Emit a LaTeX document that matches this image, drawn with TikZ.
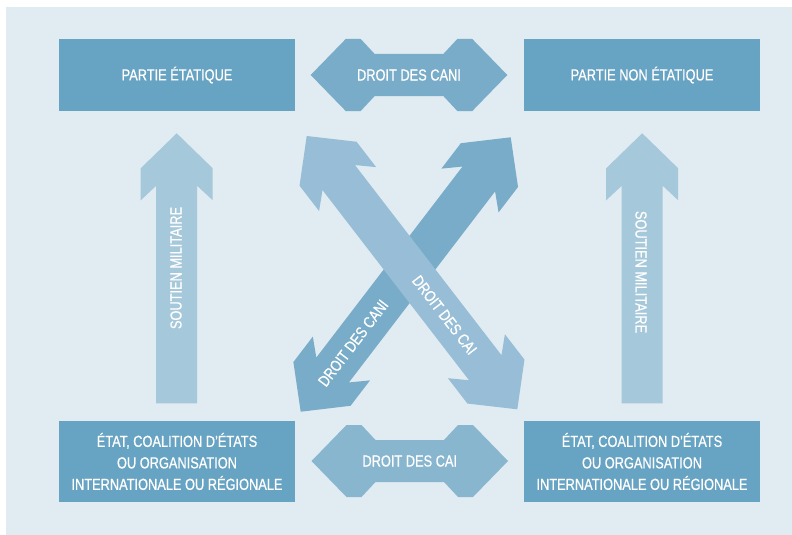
\documentclass[tikz,border=0pt]{standalone}
\usepackage{fontspec}
\setmainfont{Liberation Sans}[FakeStretch=0.8, FakeBold=0.6]
\usetikzlibrary{calc}

\definecolor{panelc}{HTML}{E1EBF2}
\definecolor{boxc}{HTML}{67A3C2}
\definecolor{canic}{HTML}{78ACC8}
\definecolor{caic}{HTML}{89B6CF}
\definecolor{xcaic}{HTML}{97BED6}
\definecolor{supportc}{HTML}{A6C8DB}

% point at distance #3 from (#1) towards (#2), shifted #4 sideways
\newcommand{\ap}[4]{($(#1)!#3!(#2)!#4!90:(#2)$)}

% double block arrow with swept-back barbs: style, end, end
\newcommand{\sweptdouble}[3]{%
  \fill[#1] (#2) -- \ap{#2}{#3}{35pt}{36pt} -- \ap{#2}{#3}{67pt}{36pt} -- \ap{#2}{#3}{52.5pt}{20.5pt}
    -- \ap{#3}{#2}{52.5pt}{-20.5pt} -- \ap{#3}{#2}{67pt}{-36pt} -- \ap{#3}{#2}{35pt}{-36pt} -- (#3)
    -- \ap{#3}{#2}{35pt}{36pt} -- \ap{#3}{#2}{67pt}{36pt} -- \ap{#3}{#2}{52.5pt}{20.5pt}
    -- \ap{#2}{#3}{52.5pt}{-20.5pt} -- \ap{#2}{#3}{67pt}{-36pt} -- \ap{#2}{#3}{35pt}{-36pt} -- cycle;}

% single block arrow with swept-back barbs: style, base, tip
\newcommand{\sweptsingle}[3]{%
  \fill[#1] (#3) -- \ap{#3}{#2}{35pt}{36pt} -- \ap{#3}{#2}{67pt}{36pt} -- \ap{#3}{#2}{52.5pt}{20.5pt}
    -- \ap{#2}{#3}{0pt}{-20.5pt} -- \ap{#2}{#3}{0pt}{20.5pt}
    -- \ap{#3}{#2}{52.5pt}{-20.5pt} -- \ap{#3}{#2}{67pt}{-36pt} -- \ap{#3}{#2}{35pt}{-36pt} -- cycle;}

% double block arrow with notched head backs: style, end, end
\newcommand{\notchdouble}[3]{%
  \fill[#1] (#2) -- \ap{#2}{#3}{35pt}{36pt} -- \ap{#2}{#3}{50pt}{36pt} -- \ap{#2}{#3}{64pt}{21pt}
    -- \ap{#3}{#2}{64pt}{-21pt} -- \ap{#3}{#2}{50pt}{-36pt} -- \ap{#3}{#2}{35pt}{-36pt} -- (#3)
    -- \ap{#3}{#2}{35pt}{36pt} -- \ap{#3}{#2}{50pt}{36pt} -- \ap{#3}{#2}{64pt}{21pt}
    -- \ap{#2}{#3}{64pt}{-21pt} -- \ap{#2}{#3}{50pt}{-36pt} -- \ap{#2}{#3}{35pt}{-36pt} -- cycle;}

\tikzset{
  partybox/.style={rectangle, fill=boxc, text=white, minimum width=236pt,
    inner sep=0pt, align=center, font=\fontsize{16}{21.5}\selectfont},
  lbl/.style={text=white, inner sep=0pt, font=\fontsize{16}{18}\selectfont}
}

\begin{document}
\begin{tikzpicture}[x=1pt, y=-1pt]
  \useasboundingbox (0,0) rectangle (792,535);
  \fill[panelc] (6,7) rectangle (792,535);

  % parties
  \node[partybox, minimum height=72pt] (etat) at (177,75) {PARTIE ÉTATIQUE};
  \node[partybox, minimum height=72pt] (nonetat) at (642,75) {PARTIE NON ÉTATIQUE};
  \node[partybox, minimum height=81pt] (coalL) at (177,461.5)
    {ÉTAT, COALITION D’ÉTATS\\OU ORGANISATION\\INTERNATIONALE OU RÉGIONALE};
  \node[partybox, minimum height=81pt] (coalR) at (642,461.5)
    {ÉTAT, COALITION D’ÉTATS\\OU ORGANISATION\\INTERNATIONALE OU RÉGIONALE};

  % arrow ends
  \coordinate (supLbase) at (176.7,403.3);
  \coordinate (supLtip)  at (176.7,133.3);
  \coordinate (supRbase) at (642.2,403.3);
  \coordinate (supRtip)  at (642.2,133.3);
  \coordinate (topA) at (310.7,75);
  \coordinate (topB) at (507.3,75);
  \coordinate (botA) at (311.5,461);
  \coordinate (botB) at (508,461);
  \coordinate (caniA) at (300.7,411.7);
  \coordinate (caniB) at (510.7,137.3);
  \coordinate (caiA)  at (306.7,136);
  \coordinate (caiB)  at (517.3,409.3);

  % military support
  \sweptsingle{supportc}{supLbase}{supLtip}
  \sweptsingle{supportc}{supRbase}{supRtip}
  \node[lbl, rotate=90]  (supLtext) at (176,268) {SOUTIEN MILITAIRE};
  \node[lbl, rotate=-90] (supRtext) at (641,272) {SOUTIEN MILITAIRE};

  % horizontal relations
  \notchdouble{canic}{topA}{topB}
  \notchdouble{caic}{botA}{botB}
  \path (topA) -- node[lbl] (toptext) {DROIT DES CANI} (topB);
  \path (botA) -- node[lbl] (bottext) {DROIT DES CAI} (botB);

  % crossing relations
  \sweptdouble{canic}{caniA}{caniB}
  \sweptdouble{xcaic}{caiA}{caiB}
  \path (caniA) -- node[lbl, pos=0.25, sloped] (canitext) {DROIT DES CANI} (caniB);
  \path (caiA) -- node[lbl, pos=0.655, sloped] (caitext) {DROIT DES CAI} (caiB);
\end{tikzpicture}
\end{document}
